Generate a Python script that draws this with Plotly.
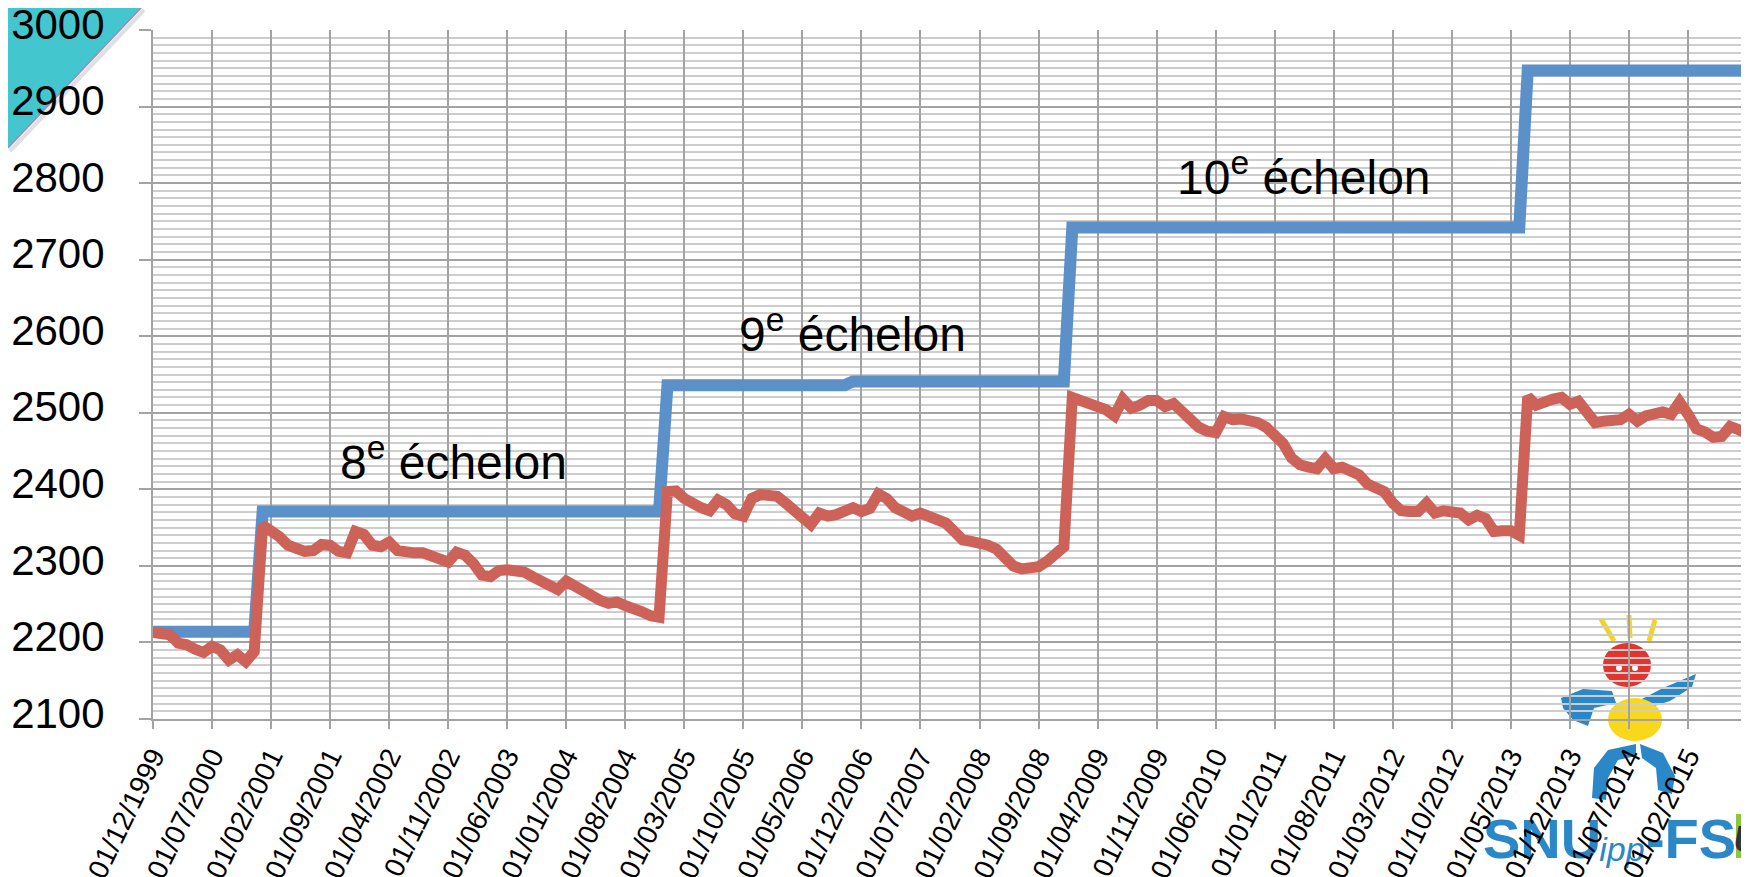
import plotly.graph_objects as go

# ---------------- data ----------------
# monthly categories from 01/12/1999 to 01/09/2015
months = []
yy, mm = 1999, 12
for _ in range(190):
    months.append(f"01/{mm:02d}/{yy}")
    mm += 1
    if mm > 12:
        mm = 1
        yy += 1

tick_labels = ["01/12/1999", "01/07/2000", "01/02/2001", "01/09/2001", "01/04/2002",
               "01/11/2002", "01/06/2003", "01/01/2004", "01/08/2004", "01/03/2005",
               "01/10/2005", "01/05/2006", "01/12/2006", "01/07/2007", "01/02/2008",
               "01/09/2008", "01/04/2009", "01/11/2009", "01/06/2010", "01/01/2011",
               "01/08/2011", "01/03/2012", "01/10/2012", "01/05/2013", "01/12/2013",
               "01/07/2014", "01/02/2015"]
axis_end_category = "01/09/2015"

# salary according to the grid (step line, blue)
salaire_grille = [
    2214, 2214, 2214, 2214, 2214, 2214, 2214, 2214, 2214, 2214,
    2214, 2214, 2214, 2371, 2371, 2371, 2371, 2371, 2371, 2371,
    2371, 2371, 2371, 2371, 2371, 2371, 2371, 2371, 2371, 2371,
    2371, 2371, 2371, 2371, 2371, 2371, 2371, 2371, 2371, 2371,
    2371, 2371, 2371, 2371, 2371, 2371, 2371, 2371, 2371, 2371,
    2371, 2371, 2371, 2371, 2371, 2371, 2371, 2371, 2371, 2371,
    2371, 2536, 2536, 2536, 2536, 2536, 2536, 2536, 2536, 2536,
    2536, 2536, 2536, 2536, 2536, 2536, 2536, 2536, 2536, 2536,
    2536, 2536, 2536, 2541, 2541, 2541, 2541, 2541, 2541, 2541,
    2541, 2541, 2541, 2541, 2541, 2541, 2541, 2541, 2541, 2541,
    2541, 2541, 2541, 2541, 2541, 2541, 2541, 2541, 2541, 2742,
    2742, 2742, 2742, 2742, 2742, 2742, 2742, 2742, 2742, 2742,
    2742, 2742, 2742, 2742, 2742, 2742, 2742, 2742, 2742, 2742,
    2742, 2742, 2742, 2742, 2742, 2742, 2742, 2742, 2742, 2742,
    2742, 2742, 2742, 2742, 2742, 2742, 2742, 2742, 2742, 2742,
    2742, 2742, 2742, 2742, 2742, 2742, 2742, 2742, 2742, 2742,
    2742, 2742, 2742, 2947, 2947, 2947, 2947, 2947, 2947, 2947,
    2947, 2947, 2947, 2947, 2947, 2947, 2947, 2947, 2947, 2947,
    2947, 2947, 2947, 2947, 2947, 2947, 2947, 2947, 2947, 2947,
]

# salary in constant euros (red)
salaire_constant = [
    2213, 2213, 2210, 2199, 2197, 2191, 2187, 2195, 2190, 2177,
    2184, 2175, 2188, 2353, 2347, 2338, 2327, 2321, 2319, 2320,
    2328, 2327, 2319, 2317, 2345, 2341, 2327, 2325, 2331, 2320,
    2317, 2317, 2317, 2312, 2308, 2305, 2318, 2314, 2303, 2288,
    2286, 2294, 2295, 2293, 2292, 2286, 2280, 2273, 2269, 2280,
    2273, 2267, 2262, 2255, 2251, 2253, 2248, 2242, 2240, 2235,
    2233, 2397, 2398, 2388, 2380, 2376, 2372, 2386, 2380, 2368,
    2365, 2388, 2393, 2393, 2391, 2382, 2373, 2360, 2354, 2369,
    2365, 2367, 2371, 2376, 2371, 2375, 2394, 2388, 2376, 2369,
    2365, 2369, 2365, 2361, 2356, 2345, 2334, 2332, 2330, 2327,
    2322, 2313, 2300, 2296, 2299, 2299, 2306, 2317, 2325, 2520,
    2517, 2514, 2508, 2504, 2496, 2518, 2506, 2510, 2516, 2516,
    2508, 2512, 2501, 2491, 2481, 2476, 2474, 2495, 2491, 2492,
    2490, 2487, 2481, 2472, 2460, 2441, 2432, 2429, 2427, 2440,
    2427, 2429, 2423, 2419, 2407, 2402, 2397, 2382, 2372, 2371,
    2371, 2382, 2369, 2372, 2371, 2369, 2360, 2366, 2362, 2345,
    2346, 2346, 2340, 2521, 2510, 2516, 2518, 2520, 2511, 2515,
    2501, 2487, 2489, 2491, 2491, 2498, 2489, 2496, 2498, 2501,
    2498, 2514, 2498, 2479, 2475, 2468, 2469, 2482, 2478, 2473,
]

y_ticks = [2100, 2200, 2300, 2400, 2500, 2600, 2700, 2800, 2900, 3000]

echelon_labels = ["8<sup>e</sup> échelon", "9<sup>e</sup> échelon", "10<sup>e</sup> échelon"]

# ---------------- layout helpers (pixel -> paper) ----------------
L, R, T, B = 145, 10, 22, 166
W, H = 1749, 877
PW, PH = W - L - R, H - T - B


def X(px):
    return (px - L) / PW


def Y(py):
    return (H - B - py) / PH


FONT = "Arial, 'Liberation Sans', sans-serif"
BLUE = "#5B90C9"
RED = "#CD6259"
GRID = "#A3A3A3"
MINOR = "#CDCDCD"

fig = go.Figure()
fig.add_trace(go.Scatter(x=months, y=salaire_grille, mode="lines",
                         line=dict(color=BLUE, width=12), hoverinfo="skip"))
fig.add_trace(go.Scatter(x=months, y=salaire_constant, mode="lines",
                         line=dict(color=RED, width=11), hoverinfo="skip"))

fig.update_layout(
    width=W, height=H,
    margin=dict(l=L, r=R, t=T, b=B, autoexpand=False),
    paper_bgcolor="white", plot_bgcolor="rgba(0,0,0,0)",
    showlegend=False,
    font=dict(family=FONT, color="black"),
)

fig.update_xaxes(
    type="category", categoryorder="array", categoryarray=months,
    range=[0, len(months) - 1],
    tickmode="array", tickvals=tick_labels + [axis_end_category],
    ticktext=tick_labels + [""],
    tickangle=-64, tickfont=dict(size=28, family=FONT, color="black"),
    ticks="outside", ticklen=8, tickwidth=2, tickcolor=GRID,
    ticklabeloverflow="allow",
    showgrid=True, gridcolor=GRID, gridwidth=2,
    minor=dict(showgrid=False, ticks=""),
    showline=True, linecolor=GRID, linewidth=2,
    zeroline=False, automargin=False,
)
fig.update_yaxes(
    range=[2100, 3000], tickmode="array", tickvals=y_ticks,
    tickfont=dict(size=42, family=FONT, color="black"),
    ticks="outside", ticklen=12, tickwidth=2, tickcolor=GRID,
    ticklabelstandoff=26, ticklabelshift=-6, ticklabeloverflow="allow",
    showgrid=True, gridcolor=GRID, gridwidth=2,
    minor=dict(dtick=10, tick0=2100, showgrid=True, gridcolor=MINOR, gridwidth=2, ticks=""),
    showline=True, linecolor=GRID, linewidth=2,
    zeroline=False, automargin=False,
)

# annotations (échelons)
ann_pos = [(445, 451), (844, 323), (1296, 166)]
for txt, (px, py) in zip(echelon_labels, ann_pos):
    fig.add_annotation(text=txt, xref="paper", yref="paper", x=X(px), y=Y(py),
                       xanchor="center", yanchor="middle", showarrow=False,
                       font=dict(size=48, family=FONT, color="black"))

shapes = []
# teal corner triangle
shapes.append(dict(type="path", xref="paper", yref="paper", layer="below",
                   path=f"M {X(0)},{Y(0)} L {X(133)},{Y(0)} L {X(0)},{Y(140)} Z",
                   fillcolor="#44C6CF", line=dict(width=0)))
shapes.append(dict(type="line", xref="paper", yref="paper", layer="below",
                   x0=X(136), y0=Y(2), x1=X(2), y1=Y(143),
                   line=dict(color="rgba(0,0,0,0.12)", width=4)))
shapes.append(dict(type="line", xref="paper", yref="paper", layer="below",
                   x0=X(133), y0=Y(0), x1=X(0), y1=Y(140),
                   line=dict(color="#A186C0", width=1.5)))

# logo (SNUipp-FSU), drawn behind the chart
LB = "#2A87C8"
YE = "#F7D31B"
for (a, b, c, d) in [(1593, 611, 1606, 633), (1621, 607, 1622, 630), (1647, 612, 1641, 633)]:
    shapes.append(dict(type="line", xref="paper", yref="paper", layer="below",
                       x0=X(a), y0=Y(b), x1=X(c), y1=Y(d), line=dict(color=YE, width=5)))
shapes.append(dict(type="circle", xref="paper", yref="paper", layer="below",
                   x0=X(1595), x1=X(1643), y0=Y(679), y1=Y(635),
                   fillcolor="#E3342F", line=dict(width=0)))
for ex in (1611, 1627):
    shapes.append(dict(type="circle", xref="paper", yref="paper", layer="below",
                       x0=X(ex - 3), x1=X(ex + 3), y0=Y(663), y1=Y(657),
                       fillcolor="white", line=dict(width=0)))


def poly(pts, color):
    p = "M " + " L ".join(f"{X(a)},{Y(b)}" for a, b in pts) + " Z"
    return dict(type="path", xref="paper", yref="paper", layer="below", path=p,
                fillcolor=color, line=dict(width=0))


shapes.append(poly([(1553, 690), (1575, 681), (1604, 683), (1608, 695), (1586, 700),
                    (1580, 718), (1565, 712), (1555, 700)], LB))
shapes.append(poly([(1632, 692), (1655, 680), (1688, 666), (1684, 679), (1662, 693),
                    (1640, 700)], LB))
shapes.append(dict(type="circle", xref="paper", yref="paper", layer="below",
                   x0=X(1600), x1=X(1654), y0=Y(733), y1=Y(690),
                   fillcolor="#F9D71C", line=dict(width=0)))
shapes.append(poly([(1584, 790), (1586, 760), (1600, 742), (1628, 736), (1628, 748),
                    (1610, 752), (1600, 770), (1598, 792)], LB))
shapes.append(poly([(1632, 736), (1655, 745), (1667, 768), (1664, 786), (1650, 782),
                    (1648, 760), (1634, 750)], LB))

logo_texts = [
    ((1476, 798, 1592, 852), "SNU", 56, "bold", "normal", LB, None),
    ((1586, 818, 1642, 858), "ipp", 34, "normal", "italic", LB, None),
    ((1638, 798, 1728, 852), "-FS", 56, "bold", "normal", LB, None),
    ((1728, 806, 1749, 850), "U", 36, "bold", "italic", "#333333", "#8DC63F"),
]
for (x0, y0, x1, y1), t, sz, wt, st, col, fill in logo_texts:
    shapes.append(dict(type="rect", xref="paper", yref="paper", layer="below",
                       x0=X(x0), x1=X(x1), y0=Y(y1), y1=Y(y0),
                       fillcolor=fill if fill else "rgba(0,0,0,0)", line=dict(width=0),
                       label=dict(text=t, textposition="middle center",
                                  font=dict(size=sz, family=FONT, color=col,
                                            weight=wt, style=st))))

fig.update_layout(shapes=shapes)

fig.write_html("out.html")
